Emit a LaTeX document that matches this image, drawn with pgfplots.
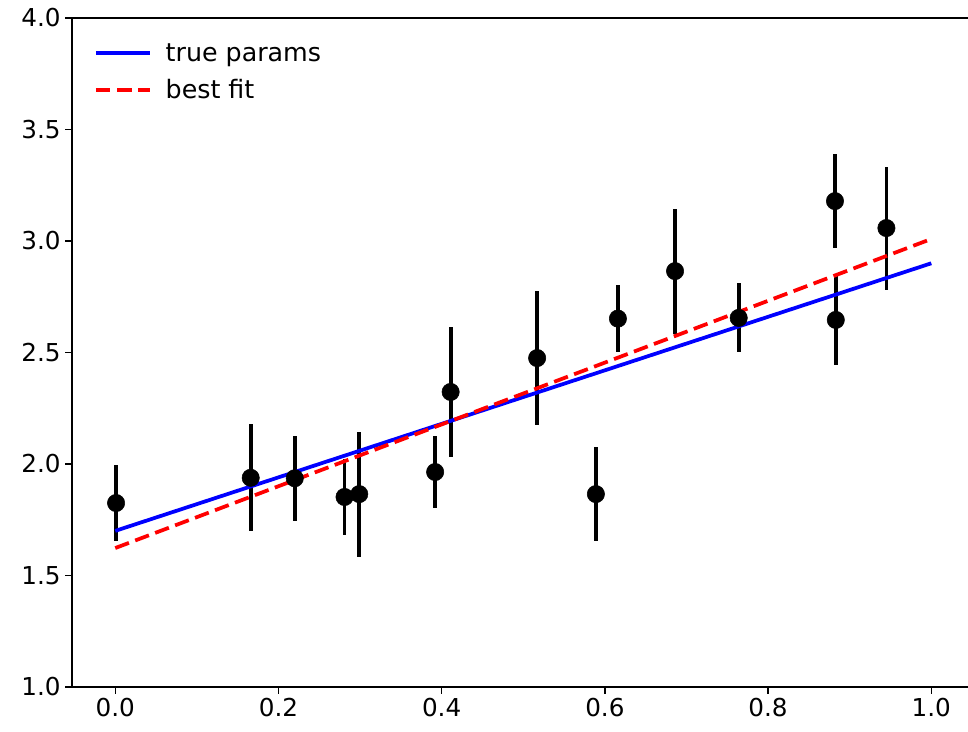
\documentclass[border=0pt]{standalone}
\usepackage{fontspec}
\setmainfont{DejaVu Sans}
\usepackage{pgfplots}
\usepackage{pgfplotstable}
\pgfplotsset{compat=1.18}

% measurements with symmetric errors
\pgfplotstableread{
x      y      err
0.001  1.825  0.170
0.166  1.938  0.240
0.220  1.936  0.190
0.281  1.852  0.170
0.299  1.865  0.280
0.392  1.964  0.160
0.411  2.323  0.290
0.517  2.475  0.300
0.589  1.865  0.210
0.616  2.652  0.150
0.686  2.865  0.280
0.764  2.655  0.155
0.882  3.179  0.210
0.883  2.646  0.200
0.945  3.058  0.276
}\measured

\newcommand{\lblfont}{\fontsize{18.5}{22}\selectfont}
\newcommand{\legfont}{\fontsize{19}{22}\selectfont}

\begin{document}
\begin{tikzpicture}
\begin{axis}[
  width=672pt, height=501.75pt, scale only axis,
  xmin=-0.053, xmax=1.045, ymin=1, ymax=4,
  axis x line*=box, axis y line*=left,
  tick pos=left, tick align=outside,
  major tick length=5pt,
  axis line style={line width=1.1pt},
  every tick/.style={black, line width=1.1pt},
  xtick={0,0.2,0.4,0.6,0.8,1.0},
  ytick={1,1.5,2,2.5,3,3.5,4},
  tick label style={font=\lblfont},
  /pgf/number format/.cd, fixed, fixed zerofill, precision=1, assume math mode=true,
  /pgfplots/.cd,
  legend style={draw=none, fill=none, at={(0,1)}, anchor=north west,
    xshift=13.25pt, yshift=-15.75pt, font=\legfont, row sep=10.5pt,
    column sep=9pt, nodes={inner sep=1pt}},
  legend cell align=left,
  legend image code/.code={\draw[#1] (0pt,0pt) -- (41pt,0pt);},
  clip=false,
]
  % error bars first, then the two lines, then the markers on top
  \addplot[forget plot, draw=none, mark=none,
    error bars/.cd, y dir=both, y explicit, error mark=none,
    error bar style={black, line width=2.8pt}]
    table[x=x, y=y, y error=err] {\measured};
  \addplot[blue, line width=2.8pt] coordinates {(0,1.700) (1,2.900)};
  \addlegendentry{true params}
  \addplot[red, line width=2.8pt, dash pattern=on 11pt off 5pt] coordinates {(0,1.623) (1,3.009)};
  \addlegendentry{best fit}
  \addplot[forget plot, only marks, mark=*, mark size=6.5pt, black]
    table[x=x, y=y] {\measured};
\end{axis}
\pgfresetboundingbox
\path[use as bounding box] ([xshift=-54pt,yshift=-33.75pt]current axis.south west)
  rectangle ([yshift=13.5pt]current axis.north east);
\end{tikzpicture}
\end{document}
